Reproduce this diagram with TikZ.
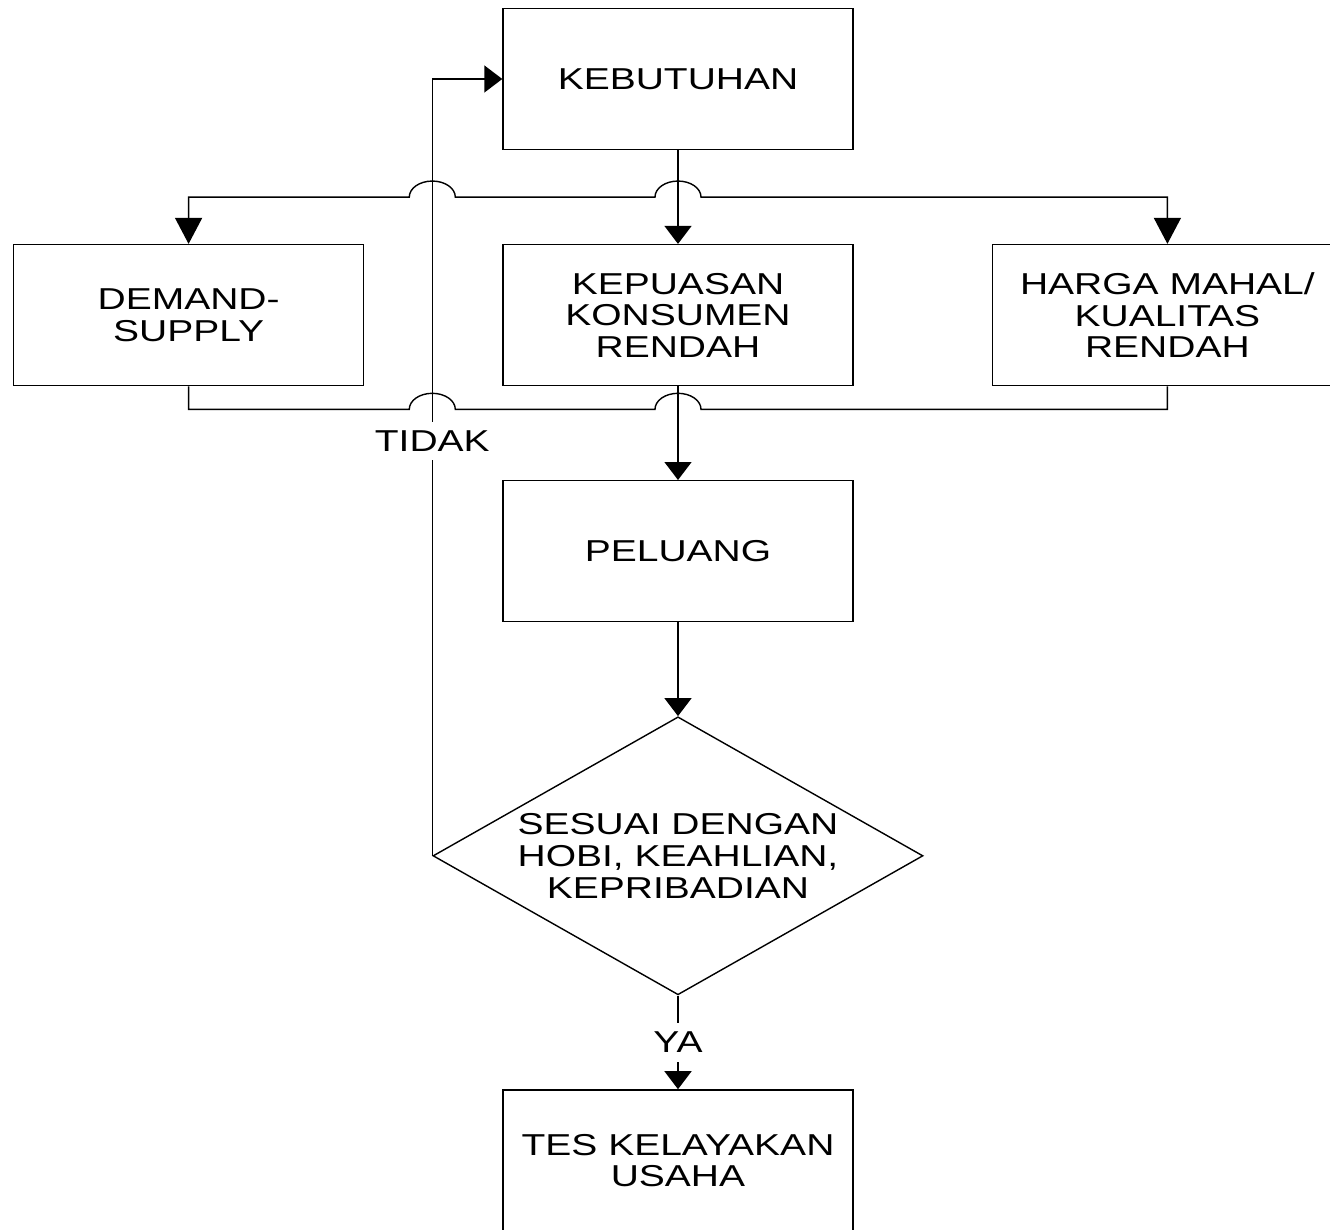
\documentclass[tikz,border=0pt]{standalone}
\usepackage{fontspec}
\setmainfont{Liberation Sans}[FakeStretch=1.29]
\usetikzlibrary{
  positioning,
  arrows.meta,
  calc,
  shapes.geometric
}
\tikzset{
  box/.style      = {rectangle, draw, line width=0.4pt,
                     minimum width=3.5cm, minimum height=1.41cm,
                     align=center, font=\fontsize{8.6}{9}\selectfont},
  decision/.style = {diamond, draw, line width=0.4pt, aspect=1.76, inner sep=0pt,
                     minimum width=4.9cm, minimum height=2.78cm,
                     align=center, font=\fontsize{8.6}{9}\selectfont},
  arrow/.style    = {-{Triangle[length=1.8mm, width=2.7mm]}, line width=0.4pt},
  split/.style    = {{Triangle[length=2.6mm, width=2.7mm]}-{Triangle[length=2.6mm, width=2.7mm]},
                     line width=0.4pt},
  link/.style     = {line width=0.4pt},
  lbl/.style      = {fill=white, inner sep=0.9mm, font=\fontsize{8.6}{9}\selectfont},
  hop/.style      = {start angle=180, end angle=0, x radius=2.3mm, y radius=1.6mm}
}

\begin{document}
\begin{tikzpicture}[node distance=0.937cm and 1.38cm]
\useasboundingbox (0,0) rectangle (13.3,-12.3);

\node[box] (kebutuhan) at (6.78,-0.79) {KEBUTUHAN};
\node[box, below=of kebutuhan] (kepuasan) {KEPUASAN\\KONSUMEN\\RENDAH};
\node[box, left=of kepuasan] (demand) {DEMAND-\\SUPPLY};
\node[box, right=of kepuasan] (harga) {HARGA MAHAL/\\KUALITAS\\RENDAH};
\node[box, below=of kepuasan] (peluang) {PELUANG};
\node[decision, below=of peluang] (sesuai) {SESUAI DENGAN\\HOBI, KEAHLIAN,\\KEPRIBADIAN};
\node[box, below=of sesuai] (tes) {TES KELAYAKAN\\USAHA};

\coordinate (splitB) at ($(kebutuhan.south)!0.5!(kepuasan.north)$);
\coordinate (splitA) at (sesuai.west |- splitB);
\coordinate (mergeB) at ([yshift=-2.3mm]kepuasan.south);
\coordinate (mergeA) at (sesuai.west |- mergeB);

\draw[arrow] (kebutuhan) -- (kepuasan);
\draw[split] (demand.north) |- ([xshift=-2.3mm]splitA) arc[hop]
  -- ([xshift=-2.3mm]splitB) arc[hop] -| (harga.north);

\draw[link] (demand.south) |- ([xshift=-2.3mm]mergeA) arc[hop]
  -- ([xshift=-2.3mm]mergeB) arc[hop] -| (harga.south);
\draw[arrow] (kepuasan) -- (peluang);

\draw[arrow] (peluang) -- (sesuai);
\draw[arrow] (sesuai.west) |- node[lbl, pos=0.267] {TIDAK} (kebutuhan.west);
\draw[arrow] (sesuai.south) -- node[lbl] {YA} (tes.north);
\end{tikzpicture}
\end{document}
